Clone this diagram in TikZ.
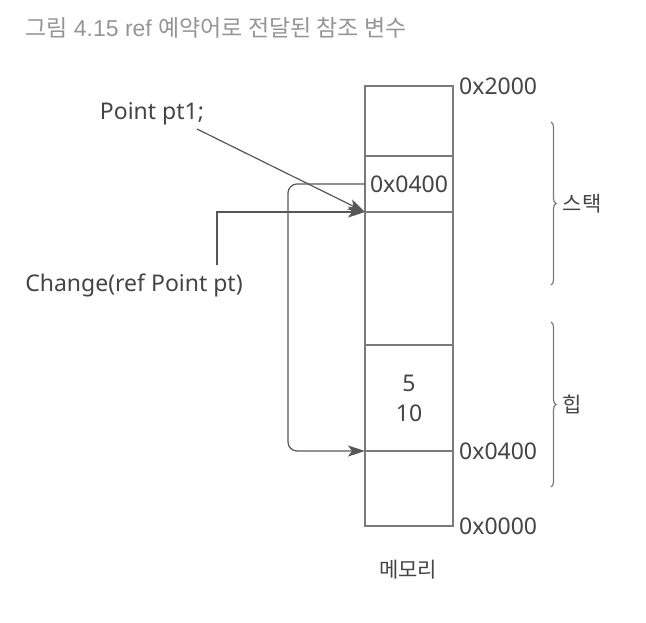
\documentclass[tikz,border=0pt]{standalone}
\usepackage{fontspec}
\setmainfont{Noto Sans}
\newfontfamily\krfont{Noto Sans CJK KR}
\newfontfamily\titlefont{Liberation Sans}
\usetikzlibrary{positioning,arrows.meta,decorations.pathreplacing}

\definecolor{ink}{HTML}{444444}
\definecolor{wire}{HTML}{7A7A7A}
\tikzset{
  cell/.style={draw=wire, line width=1.2pt, minimum width=88pt, inner sep=0pt, outer sep=0pt, text=ink},
  link/.style={draw=ink!90, line width=1.2pt, -{Stealth[length=17pt,width=11pt,inset=4pt]}},
  addr/.style={right=6pt, text=ink, inner sep=0pt},
  span/.style={draw=wire, line width=1.2pt, decorate, decoration={brace, amplitude=5pt}}
}

\begin{document}
\begin{tikzpicture}[x=1pt, y=-1pt, font=\fontsize{23}{30}\selectfont, node distance=0pt]
\useasboundingbox (0,0) rectangle (646,622);
\node[anchor=west, text=wire!80, inner sep=0pt, font=\titlefont\fontsize{23}{28}\selectfont] (title) at (25,28)
  {{\krfont 그림} 4.15 ref {\krfont 예약어로 전달된 참조 변수}};

% memory column
\node[cell, minimum height=70pt, anchor=north] (c1) at (409,86) {};
\node[cell, minimum height=56pt, below=of c1] (c2) {0x0400};
\node[cell, minimum height=133pt, below=of c2] (c3) {};
\node[cell, minimum height=106pt, below=of c3, align=center] (c4) {5\\10};
\node[cell, minimum height=75pt, below=of c4] (c5) {};

\node[addr] at (c1.north east) {0x2000};
\node[addr] at (c5.north east) {0x0400};
\node[addr] at (c5.south east) {0x0000};
\node[text=ink, font=\krfont\fontsize{21}{25}\selectfont] (mem) at (408,570) {메모리};

% variables
\node[text=ink, inner sep=0pt] (pt) at (152,114) {Point pt1;};
\node[text=ink, inner sep=0pt] (chg) at (134,285) {Change(ref Point pt)};
\coordinate (chgtop) at (217,265);

\draw[link] (197,129) -- (c3.north west);
\draw[link] (chgtop) |- (c3.north west);
\draw[link, rounded corners=9pt] (c2.west) -- ++(-77,0) |- (c5.north west);

% stack / heap
\draw[span] (551,122) -- (551,285) node[midway, right=8pt, text=ink, font=\krfont\fontsize{21}{25}\selectfont] (stk) {스택};
\draw[span] (551,322) -- (551,487) node[midway, right=8pt, text=ink, font=\krfont\fontsize{21}{25}\selectfont] (heap) {힙};
\end{tikzpicture}
\end{document}
